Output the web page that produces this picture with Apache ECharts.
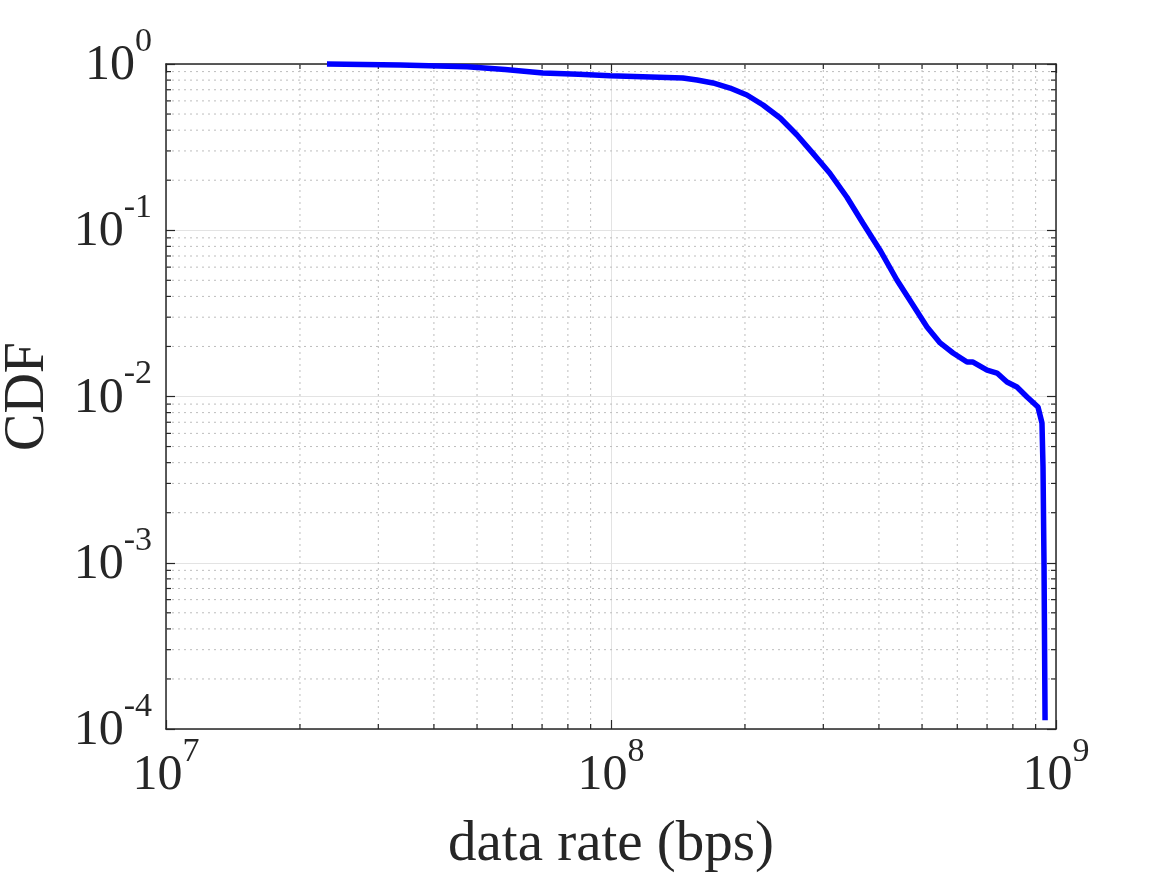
<!DOCTYPE html>
<html>
<head>
<meta charset="utf-8">
<script src="https://cdn.jsdelivr.net/npm/echarts@6/dist/echarts.min.js"></script>
<style>
  html, body { margin: 0; padding: 0; background: #fff; }
  #chart { width: 1167px; height: 875px; }
</style>
</head>
<body>
<div id="chart"></div>
<script>
// data rate (bps) and the CDF value
const rate = [2.30e7, 3.36e7, 4.75e7, 5.78e7, 7.03e7, 8.45e7, 9.95e7, 1.451e8, 1.561e8, 1.695e8,
  1.851e8, 2.02e8, 2.196e8, 2.40e8, 2.618e8, 2.84e8, 3.10e8, 3.39e8, 3.68e8, 4.02e8,
  4.39e8, 4.77e8, 5.13e8, 5.49e8, 5.87e8, 6.31e8, 6.51e8, 7.0e8, 7.37e8, 7.76e8,
  8.17e8, 8.61e8, 9.11e8, 9.30e8, 9.35e8, 9.40e8, 9.45e8];
const cdf = [1.0, 0.986, 0.963, 0.927, 0.883, 0.867, 0.850, 0.824, 0.801, 0.769,
  0.717, 0.651, 0.567, 0.473, 0.374, 0.291, 0.221, 0.158, 0.1106, 0.0761,
  0.0502, 0.0355, 0.0262, 0.0210, 0.01827, 0.01612, 0.01612, 0.01443, 0.01384, 0.01222,
  0.01141, 0.00993, 0.00865, 0.00693, 0.00377, 0.000943, 0.000113];

// minor grid positions (log axes)
const xMinor = [2e7, 3e7, 4e7, 5e7, 6e7, 7e7, 8e7, 9e7, 2e8, 3e8, 4e8, 5e8, 6e8, 7e8, 8e8, 9e8];
const yMinor = [2e-4, 3e-4, 4e-4, 5e-4, 6e-4, 7e-4, 8e-4, 9e-4,
  2e-3, 3e-3, 4e-3, 5e-3, 6e-3, 7e-3, 8e-3, 9e-3,
  2e-2, 3e-2, 4e-2, 5e-2, 6e-2, 7e-2, 8e-2, 9e-2,
  2e-1, 3e-1, 4e-1, 5e-1, 6e-1, 7e-1, 8e-1, 9e-1];

const FONT = 'Liberation Serif';
const INK = '#262626';
const GRIDC = '#bdbdbd';

function expLabel(v) {
  const e = Math.round(Math.log10(v));
  return '{b|10}{s|' + e + '}';
}
// base "10" and raised exponent
const rich = {
  b: { fontFamily: FONT, fontSize: 50, color: INK, verticalAlign: 'bottom', lineHeight: 66 },
  s: { fontFamily: FONT, fontSize: 34, color: INK, verticalAlign: 'top', lineHeight: 34 }
};

const chart = echarts.init(document.getElementById('chart'));

function renderXMinor(params, api) {
  const cs = params.coordSys;
  const x = api.coord([api.value(0), api.value(1)])[0];
  const top = cs.y, bottom = cs.y + cs.height;
  return {
    type: 'group',
    children: [
      { type: 'line', shape: { x1: x, y1: top, x2: x, y2: bottom }, style: { stroke: GRIDC, lineWidth: 1, lineDash: [2, 4] } },
      { type: 'line', shape: { x1: x, y1: bottom, x2: x, y2: bottom - 5 }, style: { stroke: INK, lineWidth: 1.2 } },
      { type: 'line', shape: { x1: x, y1: top, x2: x, y2: top + 5 }, style: { stroke: INK, lineWidth: 1.2 } }
    ]
  };
}
function renderYMinor(params, api) {
  const cs = params.coordSys;
  const y = api.coord([api.value(0), api.value(1)])[1];
  const left = cs.x, right = cs.x + cs.width;
  return {
    type: 'group',
    children: [
      { type: 'line', shape: { x1: left, y1: y, x2: right, y2: y }, style: { stroke: GRIDC, lineWidth: 1, lineDash: [2, 4] } },
      { type: 'line', shape: { x1: left, y1: y, x2: left + 5, y2: y }, style: { stroke: INK, lineWidth: 1.2 } },
      { type: 'line', shape: { x1: right, y1: y, x2: right - 5, y2: y }, style: { stroke: INK, lineWidth: 1.2 } }
    ]
  };
}

const axisLine = { show: true, onZero: false, lineStyle: { color: INK, width: 1.5 } };
const axisTick = { show: true, inside: true, length: 9, lineStyle: { color: INK, width: 1.2 } };

const option = {
  backgroundColor: '#fff',
  animation: false,
  grid: { left: 166, right: 111, top: 64, bottom: 146, outerBoundsMode: 'none', containLabel: false },
  xAxis: [
    {
      type: 'log', logBase: 10, min: 1e7, max: 1e9,
      position: 'bottom',
      name: 'data rate (bps)', nameLocation: 'middle', nameGap: 88,
      nameTextStyle: { fontFamily: FONT, fontSize: 57, color: INK },
      axisLine, axisTick,
      axisLabel: { margin: 6, formatter: expLabel, rich },
      splitLine: { show: true, lineStyle: { color: '#e3e3e3', width: 1 } }
    },
    {
      type: 'log', logBase: 10, min: 1e7, max: 1e9,
      position: 'top',
      axisLine, axisTick,
      axisLabel: { show: false },
      splitLine: { show: false }
    }
  ],
  yAxis: [
    {
      type: 'log', logBase: 10, min: 1e-4, max: 1,
      position: 'left',
      name: 'CDF', nameLocation: 'middle', nameGap: 110, nameRotate: 90,
      nameTextStyle: { fontFamily: FONT, fontSize: 56, color: INK },
      axisLine, axisTick,
      axisLabel: { margin: 14, formatter: expLabel, rich, padding: [0, 0, 12, 0] },
      splitLine: { show: true, lineStyle: { color: '#e3e3e3', width: 1 } }
    },
    {
      type: 'log', logBase: 10, min: 1e-4, max: 1,
      position: 'right',
      axisLine, axisTick,
      axisLabel: { show: false },
      splitLine: { show: false }
    }
  ],
  series: [
    {
      type: 'custom', silent: true, z: 1,
      xAxisIndex: 0, yAxisIndex: 0,
      renderItem: renderXMinor,
      data: xMinor.map(v => [v, 1e-2])
    },
    {
      type: 'custom', silent: true, z: 1,
      xAxisIndex: 0, yAxisIndex: 0,
      renderItem: renderYMinor,
      data: yMinor.map(v => [1e8, v])
    },
    {
      name: 'CDF', type: 'line', z: 5,
      xAxisIndex: 0, yAxisIndex: 0,
      data: rate.map((r, i) => [r, cdf[i]]),
      showSymbol: false, smooth: false,
      lineStyle: { color: '#0000ff', width: 5.5 },
      clip: false
    }
  ]
};
chart.setOption(option);
</script>
</body>
</html>
